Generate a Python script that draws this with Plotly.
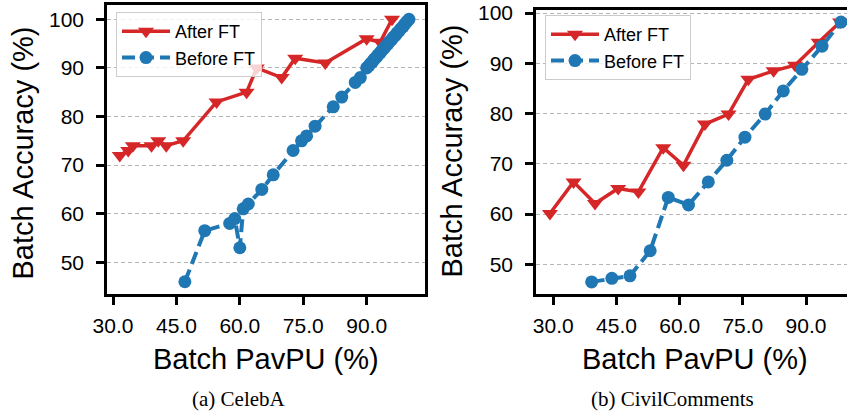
import plotly.graph_objects as go

# ---------------- data ----------------
# (a) CelebA
celeba_after_x = [31.6, 33.6, 34.7, 39.1, 40.7, 42.6, 46.6, 54.5, 61.6, 64.0, 69.9, 73.1, 80.2, 90.0, 93.2, 96.0]
celeba_after_y = [72.0, 73.0, 74.0, 74.0, 75.0, 74.0, 75.0, 83.0, 85.0, 90.0, 88.0, 92.0, 91.0, 96.0, 95.3, 100.0]

celeba_before_x = [47.0, 51.7, 57.6, 58.8, 60.0, 60.8, 62.0, 65.2, 67.9, 72.6, 74.6, 75.8, 77.8, 82.1, 84.1,
                   87.3, 88.5, 90.0, 90.5, 90.9, 91.4, 91.8, 92.3, 92.7, 93.2, 93.6, 94.1, 94.5, 95.0,
                   95.4, 95.9, 96.3, 96.8, 97.2, 97.7, 98.1, 98.6, 99.0, 99.5, 100.0]
celeba_before_y = [46.0, 56.5, 58.0, 59.0, 53.0, 61.0, 62.0, 65.0, 68.0, 73.0, 75.0, 76.0, 78.0, 82.0, 84.0,
                   87.0, 88.0, 90.0, 90.4, 90.9, 91.3, 91.8, 92.2, 92.7, 93.1, 93.6, 94.0, 94.5, 94.9,
                   95.4, 95.8, 96.3, 96.7, 97.2, 97.6, 98.1, 98.5, 99.0, 99.5, 100.0]

# (b) CivilComments
civil_after_x = [29.2, 34.8, 39.9, 45.4, 50.2, 56.1, 60.9, 66.0, 71.6, 76.3, 82.3, 87.4, 93.0, 98.1]
civil_after_y = [60.1, 66.4, 62.1, 65.1, 64.4, 73.2, 69.7, 77.9, 79.9, 86.8, 88.5, 89.6, 94.2, 98.2]

civil_before_x = [39.1, 43.9, 48.2, 53.0, 57.3, 62.1, 66.8, 71.2, 75.5, 80.3, 84.6, 89.0, 93.8, 98.3]
civil_before_y = [46.5, 47.2, 47.7, 52.7, 63.3, 61.8, 66.4, 70.7, 75.3, 79.9, 84.5, 88.8, 93.4, 98.2]

x_tick_vals = [30, 45, 60, 75, 90]
x_tick_text = ["30.0", "45.0", "60.0", "75.0", "90.0"]
y_tick_vals = [50, 60, 70, 80, 90, 100]

series_names = ["After FT", "Before FT"]
captions = ["(a) CelebA", "(b) CivilComments"]
x_title = "Batch PavPU (%)"
y_title = "Batch Accuracy (%)"

# ---------------- style ----------------
RED = "#d62728"
BLUE = "#1f77b4"
SANS = "Liberation Sans, Arial, Helvetica, sans-serif"
SERIF = "Liberation Serif, Times New Roman, serif"
W, H = 847, 413

fig = go.Figure()

def add_pair(ax, after_x, after_y, before_x, before_y, legend):
    xa = "x" if ax == 1 else "x2"
    ya = "y" if ax == 1 else "y2"
    fig.add_trace(go.Scatter(
        x=after_x, y=after_y, name=series_names[0], mode="lines+markers",
        line=dict(color=RED, width=3.5),
        marker=dict(symbol="triangle-down", size=14, color=RED),
        xaxis=xa, yaxis=ya, legend=legend))
    fig.add_trace(go.Scatter(
        x=before_x, y=before_y, name=series_names[1], mode="lines+markers",
        line=dict(color=BLUE, width=4, dash="13px,6px"),
        marker=dict(symbol="circle", size=13, color=BLUE),
        xaxis=xa, yaxis=ya, legend=legend))

add_pair(1, celeba_after_x, celeba_after_y, celeba_before_x, celeba_before_y, "legend")
add_pair(2, civil_after_x, civil_after_y, civil_before_x, civil_before_y, "legend2")

xcommon = dict(
    tickvals=x_tick_vals, ticktext=x_tick_text, ticks="outside", ticklen=8, tickwidth=2.5,
    tickcolor="black", showline=True, linecolor="black", linewidth=2.5, showgrid=False,
    zeroline=False, tickfont=dict(family=SANS, size=21, color="black"), ticklabelstandoff=3,
    automargin=False,
)
ycommon = dict(
    tickvals=y_tick_vals, ticks="outside", ticklen=8, tickwidth=2.5, tickcolor="black",
    showline=True, linecolor="black", linewidth=2.5, showgrid=True, gridcolor="#b5b5b5",
    gridwidth=1.2, griddash="4px,3px", zeroline=False,
    tickfont=dict(family=SANS, size=21, color="black"), ticklabelstandoff=8,
    automargin=False,
)

def py(px):
    return 1 - px / H

def pxx(px):
    return px / W

legend_common = dict(
    xanchor="left", yanchor="top", bgcolor="rgba(255,255,255,0.8)", bordercolor="#cccccc",
    borderwidth=1, font=dict(family=SANS, size=18, color="black"), traceorder="normal",
    itemwidth=48,
)

fig.update_layout(
    width=W, height=H, margin=dict(l=0, r=0, t=0, b=0, autoexpand=False),
    paper_bgcolor="white", plot_bgcolor="white",
    xaxis=dict(xcommon, domain=[pxx(107), pxx(425)], range=[28.58, 103.8], mirror=True, anchor="y"),
    yaxis=dict(ycommon, domain=[py(294), py(5)], range=[43.48, 102.94], mirror=True, anchor="x"),
    xaxis2=dict(xcommon, domain=[pxx(536), 1.0], range=[25.89, 99.73], mirror=True, anchor="y2"),
    yaxis2=dict(ycommon, domain=[py(294), py(9.5)], range=[44.09, 100.7], mirror=False, anchor="x2"),
    legend=dict(legend_common, x=pxx(116), y=py(12)),
    legend2=dict(legend_common, x=pxx(545), y=py(15)),
)

annots = [
    dict(text=y_title, x=pxx(22), y=py(153.5), textangle=-90, size=29, family=SANS),
    dict(text=y_title, x=pxx(452), y=py(151.5), textangle=-90, size=29, family=SANS),
    dict(text=x_title, x=pxx(265.5), y=py(359), textangle=0, size=29, family=SANS),
    dict(text=x_title, x=pxx(695), y=py(359), textangle=0, size=29, family=SANS),
    dict(text=captions[0], x=pxx(239), y=py(399), textangle=0, size=21, family=SERIF),
    dict(text=captions[1], x=pxx(672), y=py(399), textangle=0, size=21, family=SERIF),
]
for a in annots:
    fig.add_annotation(text=a["text"], x=a["x"], y=a["y"], xref="paper", yref="paper",
                       xanchor="center", yanchor="middle", showarrow=False, textangle=a["textangle"],
                       font=dict(family=a["family"], size=a["size"], color="black"))

fig.write_html(
    "out.html",
    config={"displayModeBar": False},
    post_script="document.body.style.margin='0px';document.body.style.overflow='hidden';",
)
